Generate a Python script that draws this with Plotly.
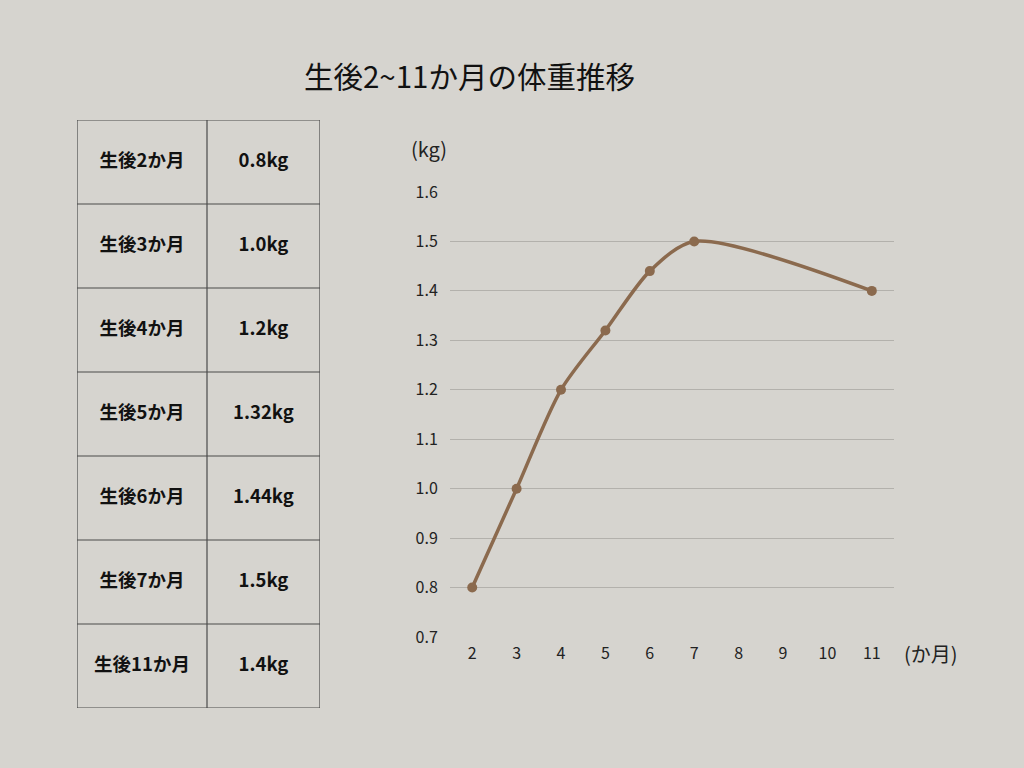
import plotly.graph_objects as go

# data
months = [2, 3, 4, 5, 6, 7, 11]
weights = [0.8, 1.0, 1.2, 1.32, 1.44, 1.5, 1.4]
row_labels = ["生後2か月", "生後3か月", "生後4か月", "生後5か月",
              "生後6か月", "生後7か月", "生後11か月"]
row_values = ["0.8kg", "1.0kg", "1.2kg", "1.32kg", "1.44kg", "1.5kg", "1.4kg"]
x_ticks = [2, 3, 4, 5, 6, 7, 8, 9, 10, 11]
y_ticks = [0.7, 0.8, 0.9, 1.0, 1.1, 1.2, 1.3, 1.4, 1.5, 1.6]

BG = "#d6d4cf"
BROWN = "#8b6a4e"
FONT = "Noto Sans CJK JP"
W, H = 1024, 768
col_w = [130, 113]  # table column widths in px

fig = go.Figure()

# table: text through its own axes (x2/y2), grid as shapes on those axes
n = len(row_labels)
col_mid = [col_w[0] / 2, col_w[0] + col_w[1] / 2]
rows = list(range(n))
fig.add_trace(go.Scatter(
    x=[col_mid[0]] * n + [col_mid[1]] * n, y=rows + rows,
    text=["<b>%s</b>" % s for s in row_labels + row_values],
    mode="text", textfont=dict(family=FONT, size=18.5, color="#111"),
    xaxis="x2", yaxis="y2", hoverinfo="skip",
))
shapes = []
edges = [0, col_w[0], sum(col_w)]
for e in edges:
    shapes.append(dict(type="line", xref="x2", yref="y2", x0=e, x1=e,
                       y0=-0.5, y1=n - 0.5, line=dict(color="#4a4a4a", width=1.2)))
for r in range(n + 1):
    shapes.append(dict(type="line", xref="x2", yref="y2", x0=0, x1=sum(col_w),
                       y0=r - 0.5, y1=r - 0.5, line=dict(color="#4a4a4a", width=1.2)))

fig.add_trace(go.Scatter(
    x=months, y=weights, mode="lines+markers",
    line=dict(color=BROWN, width=3.5, shape="spline", smoothing=0.8),
    marker=dict(color=BROWN, size=10),
    hoverinfo="x+y",
))

fig.update_layout(
    width=W, height=H,
    paper_bgcolor=BG, plot_bgcolor=BG,
    margin=dict(l=0, r=0, t=0, b=0, pad=0, autoexpand=False),
    showlegend=False,
    font=dict(family=FONT, color="#222"),
    shapes=shapes,
    xaxis=dict(domain=[450 / W, 894 / W], range=[1.5, 11.5],
               tickvals=x_ticks, ticktext=[str(v) for v in x_ticks],
               showgrid=False, zeroline=False, showline=False,
               tickfont=dict(size=16), ticks="outside", ticklen=2,
               tickcolor="rgba(0,0,0,0)"),
    yaxis=dict(domain=[(H - 637) / H, (H - 192) / H], range=[0.7, 1.6],
               tickvals=y_ticks, ticktext=["%.1f" % v for v in y_ticks],
               showgrid=True, gridcolor="#b3b1ac", gridwidth=1.2,
               zeroline=False, showline=False,
               tickfont=dict(size=16), ticks="outside", ticklen=8,
               tickcolor="rgba(0,0,0,0)"),
    xaxis2=dict(domain=[77 / W, (77 + sum(col_w)) / W], range=[0, sum(col_w)],
                visible=False, fixedrange=True),
    yaxis2=dict(domain=[(H - 708) / H, (H - 120) / H], range=[n - 0.5, -0.5],
                visible=False, fixedrange=True),
    annotations=[
        dict(text="生後2~11か月の体重推移", x=469 / W, y=1 - 75 / H,
             xanchor="center", yanchor="middle",
             xref="paper", yref="paper", showarrow=False,
             font=dict(size=29.5, color="#111")),
        dict(text="(kg)", x=429 / W, y=1 - 149 / H,
             xanchor="center", yanchor="middle",
             xref="paper", yref="paper", showarrow=False,
             font=dict(size=20, color="#222")),
        dict(text="(か月)", x=931 / W, y=1 - 653 / H,
             xanchor="center", yanchor="middle",
             xref="paper", yref="paper", showarrow=False,
             font=dict(size=20, color="#222")),
    ],
)

fig.write_html("out.html", config={"displayModeBar": False}, post_script=(
    "document.body.style.margin='0';"
    "document.body.style.overflow='hidden';"
    "document.body.style.background='%s';" % BG))
